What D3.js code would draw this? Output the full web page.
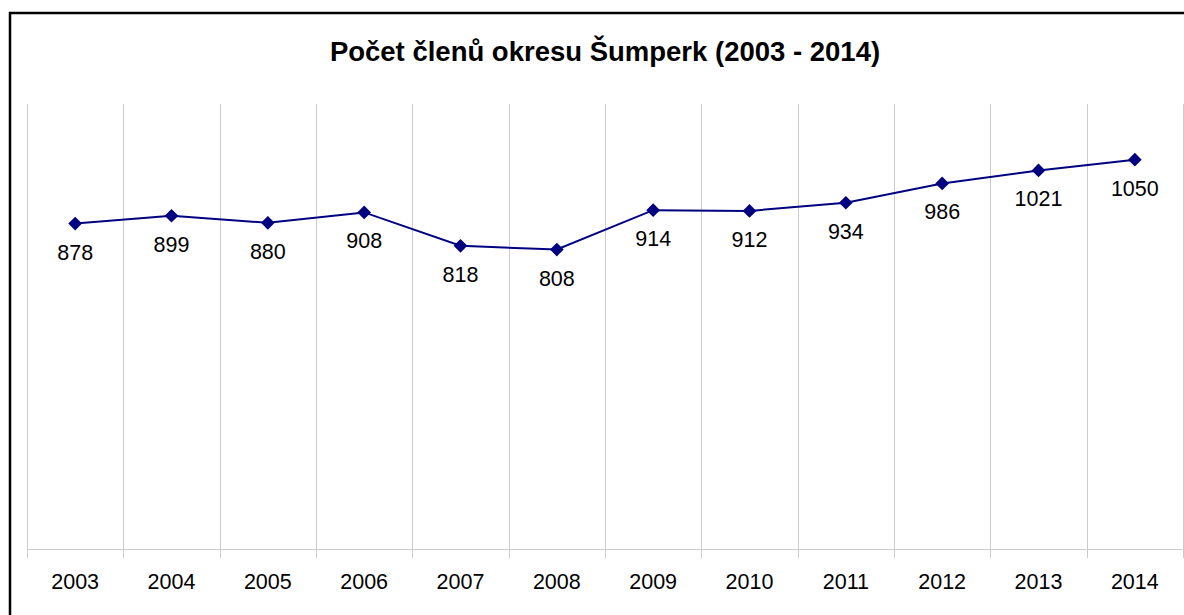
<!DOCTYPE html>
<html>
<head>
<meta charset="utf-8">
<script src="https://d3js.org/d3.v7.min.js"></script>
<style>
    body {
        margin: 0;
        background-color: #ffffff;
    }
    svg {
        display: block;
        font-family: "Liberation Sans", Arial, sans-serif;
    }
    .grid line {
        stroke: #cccccc;
        stroke-width: 1px;
        shape-rendering: crispEdges;
    }
    .x.axis path {
        display: none;
    }
    .x.axis text {
        font-size: 21.5px;
        fill: #000;
    }
    .label {
        font-size: 21.5px;
        fill: #000;
        text-anchor: middle;
    }
</style>
</head>
<body>
<svg width="1184" height="615"></svg>
<script>

    // data
    var years = ["2003", "2004", "2005", "2006", "2007", "2008", "2009", "2010", "2011", "2012", "2013", "2014"];
    var members = [878, 899, 880, 908, 818, 808, 914, 912, 934, 986, 1021, 1050];
    var yDomain = [0, 1200];
    var title = "Počet členů okresu Šumperk (2003 - 2014)";

    var svg = d3.select("svg"),
        plot = {left: 27, right: 1183, top: 104, bottom: 549.5};

    // outer frame of the chart
    svg.append("rect")
        .attr("x", 10)
        .attr("y", 13)
        .attr("width", 1200)
        .attr("height", 700)
        .attr("fill", "#fff")
        .attr("stroke", "#000")
        .attr("stroke-width", 2.5);

    svg.append("text")
        .attr("x", 605)
        .attr("y", 61)
        .attr("text-anchor", "middle")
        .style("font-size", "27.5px")
        .style("font-weight", "bold")
        .text(title);

    var x = d3.scaleBand().domain(years).range([plot.left, plot.right]).padding(0);
    var y = d3.scaleLinear().domain(yDomain).range([plot.bottom, plot.top]);

    // vertical grid lines sit on the category boundaries and run into the ticks
    var bounds = years.map(function (d) { return x(d); }).concat([plot.right]);
    var grid = svg.append("g").attr("class", "grid");
    grid.selectAll("line")
        .data(bounds)
        .enter().append("line")
        .attr("x1", function (d) { return Math.round(d) + 0.5; })
        .attr("x2", function (d) { return Math.round(d) + 0.5; })
        .attr("y1", plot.top)
        .attr("y2", plot.bottom + 8);

    grid.append("line")
        .attr("x1", plot.left)
        .attr("x2", plot.right)
        .attr("y1", plot.bottom)
        .attr("y2", plot.bottom);

    svg.append("g")
        .attr("class", "x axis")
        .attr("transform", "translate(0," + plot.bottom + ")")
        .call(d3.axisBottom(x).tickSize(0).tickPadding(24));

    var pts = years.map(function (d, i) { return {year: d, value: members[i]}; });

    var line = d3.line()
        .x(function (d) { return x(d.year) + x.bandwidth() / 2; })
        .y(function (d) { return y(d.value); });

    svg.append("path")
        .datum(pts)
        .attr("fill", "none")
        .attr("stroke", "#000080")
        .attr("stroke-width", 2)
        .attr("d", line);

    svg.selectAll(".dot")
        .data(pts)
        .enter().append("path")
        .attr("class", "dot")
        .attr("fill", "#000080")
        .attr("transform", function (d) {
            return "translate(" + (x(d.year) + x.bandwidth() / 2) + "," + y(d.value) + ")";
        })
        .attr("d", d3.symbol().type(d3.symbolDiamond2).size(120));

    svg.selectAll(".label")
        .data(pts)
        .enter().append("text")
        .attr("class", "label")
        .attr("x", function (d) { return x(d.year) + x.bandwidth() / 2; })
        .attr("y", function (d) { return y(d.value) + 36; })
        .text(function (d) { return d.value; });
</script>
</body>
</html>
